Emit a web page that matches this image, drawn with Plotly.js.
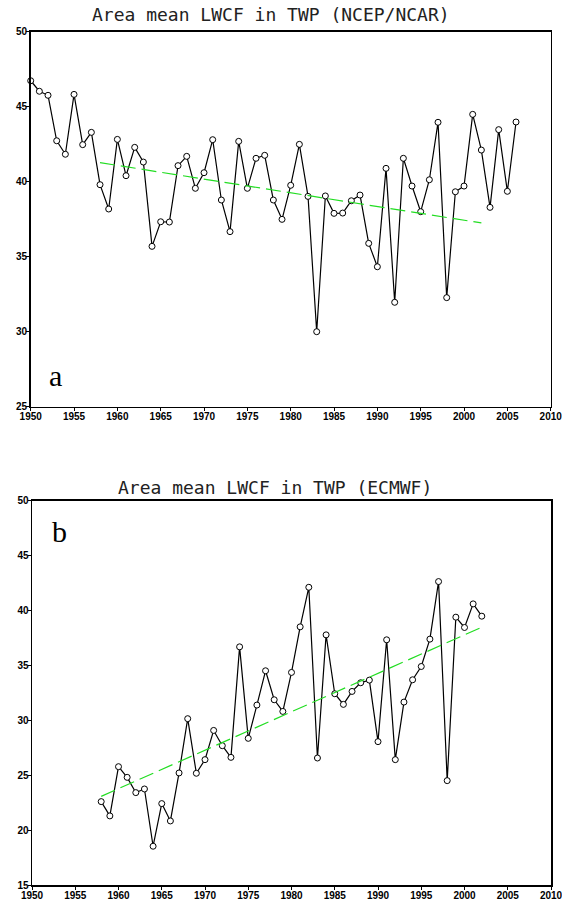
<!DOCTYPE html>
<html>
<head>
<meta charset="utf-8">
<script src="https://cdn.plot.ly/plotly-3.0.1.min.js"></script>
<style>html,body{margin:0;padding:0;background:#fff;}#chart{width:562px;height:905px;}</style>
</head>
<body>
<div id="chart"></div>
<script>
// Panel a: NCEP/NCAR
const yearsA = [1950,1951,1952,1953,1954,1955,1956,1957,1958,1959,1960,1961,1962,1963,1964,1965,1966,1967,1968,1969,
  1970,1971,1972,1973,1974,1975,1976,1977,1978,1979,1980,1981,1982,1983,1984,1985,1986,1987,1988,1989,
  1990,1991,1992,1993,1994,1995,1996,1997,1998,1999,2000,2001,2002,2003,2004,2005,2006];
const lwcfA = [46.73,46.03,45.76,42.73,41.83,45.82,42.47,43.29,39.8,38.18,42.82,40.4,42.29,41.31,35.69,37.33,37.31,41.07,41.69,39.56,
  40.6,42.8,38.78,36.67,42.69,39.56,41.56,41.76,38.78,37.49,39.76,42.49,39.02,30.0,39.05,37.89,37.91,38.73,39.11,35.89,
  34.33,40.89,31.96,41.56,39.71,38.0,40.13,43.96,32.27,39.33,39.71,44.49,42.11,38.29,43.47,39.36,43.98];
const trendYearsA = [1958, 2002];
const trendA = [41.27, 37.25];

// Panel b: ECMWF
const yearsB = [1958,1959,1960,1961,1962,1963,1964,1965,1966,1967,1968,1969,1970,1971,1972,1973,1974,1975,1976,1977,
  1978,1979,1980,1981,1982,1983,1984,1985,1986,1987,1988,1989,1990,1991,1992,1993,1994,1995,1996,1997,
  1998,1999,2000,2001,2002];
const lwcfB = [22.59,21.29,25.77,24.8,23.41,23.74,18.53,22.41,20.83,25.2,30.14,25.17,26.41,29.07,27.68,26.62,36.68,28.35,31.38,34.5,
  31.86,30.8,34.35,38.5,42.1,26.56,37.77,32.41,31.44,32.62,33.41,33.65,28.05,37.32,26.41,31.65,33.68,34.89,37.38,42.62,
  24.5,39.38,38.44,40.59,39.47];
const trendYearsB = [1958, 2002];
const trendB = [23.07, 38.47];

const titleA = "Area mean LWCF in TWP (NCEP/NCAR)";
const titleB = "Area mean LWCF in TWP (ECMWF)";
const xTicks = [1950,1955,1960,1965,1970,1975,1980,1985,1990,1995,2000,2005,2010];
const yTicksA = [25,30,35,40,45,50];
const yTicksB = [15,20,25,30,35,40,45,50];

const W = 562, H = 905;
const px = v => v / W;
const py = v => 1 - v / H;

const lineStyle = {color: '#000', width: 1.2};
const markerStyle = {symbol: 'circle', size: 6, color: '#fff', line: {color: '#000', width: 1}};
const trendStyle = {color: '#22dd22', width: 1.2, dash: '15px,6px'};

const data = [
  {x: yearsA, y: lwcfA, type: 'scatter', mode: 'lines+markers', line: lineStyle, marker: markerStyle, xaxis: 'x', yaxis: 'y', cliponaxis: false},
  {x: trendYearsA, y: trendA, type: 'scatter', mode: 'lines', line: trendStyle, xaxis: 'x', yaxis: 'y'},
  {x: yearsB, y: lwcfB, type: 'scatter', mode: 'lines+markers', line: lineStyle, marker: markerStyle, xaxis: 'x2', yaxis: 'y2', cliponaxis: false},
  {x: trendYearsB, y: trendB, type: 'scatter', mode: 'lines', line: trendStyle, xaxis: 'x2', yaxis: 'y2'}
];

const tickFont = {family: 'Liberation Sans, Arial, sans-serif', size: 10, color: '#000', weight: 'bold'};
function xAxis(domain, anchor) {
  return {domain: domain, anchor: anchor, range: [1950, 2010], tickvals: xTicks, ticktext: xTicks.map(String),
    showgrid: false, zeroline: false, showline: true, mirror: true, linecolor: '#000', linewidth: 1.5,
    ticks: 'outside', ticklen: 3, tickwidth: 1, tickcolor: '#000', tickfont: tickFont, fixedrange: true,
    ticklabeloverflow: 'allow', ticklabelstandoff: -3};
}
function yAxis(domain, anchor, range, ticks) {
  return {domain: domain, anchor: anchor, range: range, tickvals: ticks, ticktext: ticks.map(String),
    showgrid: false, zeroline: false, showline: true, mirror: true, linecolor: '#000', linewidth: 1.5,
    ticks: 'outside', ticklen: 3, tickwidth: 1, tickcolor: '#000', tickfont: tickFont, fixedrange: true,
    ticklabeloverflow: 'allow', ticklabelstandoff: -3};
}

const titleFont = {family: 'DejaVu Sans Mono, monospace', size: 18, color: '#222'};
const layout = {
  width: W, height: H,
  margin: {l: 0, r: 0, t: 0, b: 0},
  paper_bgcolor: '#fff', plot_bgcolor: '#fff',
  showlegend: false,
  xaxis: xAxis([px(30.7), px(550.7)], 'y'),
  yaxis: yAxis([py(406.7), py(31.7)], 'x', [25, 50], yTicksA),
  xaxis2: xAxis([px(32), px(551)], 'y2'),
  yaxis2: yAxis([py(885), py(500.5)], 'x2', [15, 50], yTicksB),
  annotations: [
    {text: titleA, xref: 'paper', yref: 'paper', x: px(271), y: py(15), xanchor: 'center', yanchor: 'middle', showarrow: false, font: titleFont},
    {text: titleB, xref: 'paper', yref: 'paper', x: px(275), y: py(487), xanchor: 'center', yanchor: 'middle', showarrow: false, font: titleFont},
    {text: 'a', xref: 'paper', yref: 'paper', x: px(55), y: py(376), xanchor: 'center', yanchor: 'middle', showarrow: false,
      font: {family: 'Liberation Serif, Times New Roman, serif', size: 30, color: '#000'}},
    {text: 'b', xref: 'paper', yref: 'paper', x: px(59), y: py(531), xanchor: 'center', yanchor: 'middle', showarrow: false,
      font: {family: 'Liberation Serif, Times New Roman, serif', size: 30, color: '#000'}}
  ]
};

Plotly.newPlot('chart', data, layout, {displayModeBar: false, staticPlot: true});
</script>
</body>
</html>
